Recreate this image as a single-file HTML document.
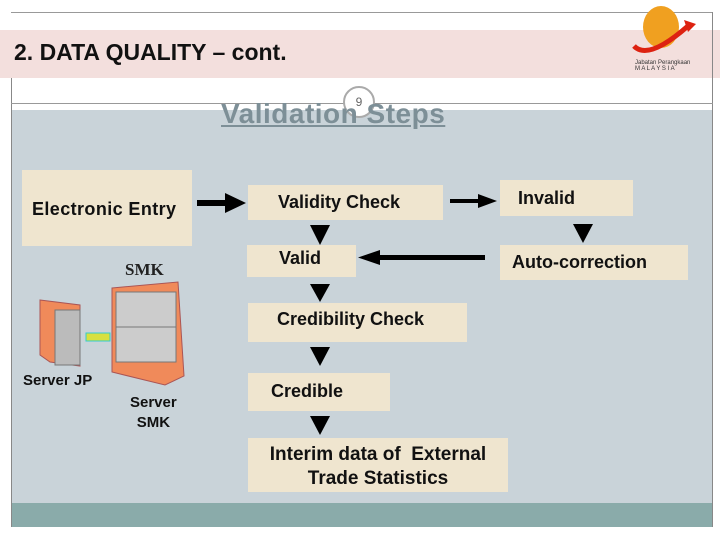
<!DOCTYPE html>
<html><head><style>
body{margin:0;width:720px;height:540px;background:#fff;position:relative;overflow:hidden;font-family:"Liberation Sans",sans-serif;font-weight:bold;}
.a{position:absolute;}
.box{position:absolute;background:#efe5cf;color:#111;font-size:18px;}
</style></head><body>
<div class="a" style="left:11px;top:12px;width:702px;height:1px;background:#999"></div>
<div class="a" style="left:0;top:30px;width:720px;height:48px;background:#f3dfdd"></div>
<div class="a" style="left:14px;top:39px;font-size:23px;color:#111">2. DATA QUALITY – cont.</div>
<div class="a" style="left:11px;top:78px;width:1px;height:449px;background:#888"></div>
<div class="a" style="left:712px;top:12px;width:1px;height:515px;background:#888"></div>
<div class="a" style="left:11px;top:103px;width:702px;height:1px;background:#999"></div>
<div class="a" style="left:12px;top:110px;width:700px;height:393px;background:#c9d3d9"></div>
<div class="a" style="left:12px;top:503px;width:700px;height:24px;background:#8aabaa"></div>
<!-- logo -->
<div class="a" style="left:643px;top:6px;width:36px;height:42px;border-radius:50%;background:#f0a020"></div>
<svg class="a" style="left:628px;top:16px" width="70" height="40"><path d="M6 30 Q20 45 60 10" stroke="#d21" stroke-width="5" fill="none"/><polygon points="56,4 68,8 60,16" fill="#d21"/></svg>
<div class="a" style="left:635px;top:60px;font-size:6px;font-weight:normal;color:#333">Jabatan Perangkaan<br>M A L A Y S I A</div>
<!-- page number -->
<div class="a" style="left:343px;top:86px;width:28px;height:28px;border-radius:50%;border:2px solid #aaa;background:#fff;font-size:12px;font-weight:normal;color:#666;text-align:center;line-height:28px">9</div>
<div class="a" style="left:221px;top:98px;font-size:28px;color:#7d8f97;text-decoration:underline;letter-spacing:0.5px">Validation Steps</div>
<!-- boxes -->
<div class="box" style="left:22px;top:170px;width:170px;height:76px;"><div style="margin:29px 0 0 10px;letter-spacing:0.4px">Electronic Entry</div></div>
<div class="a" style="left:125px;top:260px;font-family:'Liberation Serif',serif;font-size:17px;color:#222">SMK</div>
<div class="box" style="left:248px;top:185px;width:195px;height:35px;"><div style="margin:7px 0 0 30px">Validity Check</div></div>
<div class="box" style="left:500px;top:180px;width:133px;height:36px;"><div style="margin:8px 0 0 18px">Invalid</div></div>
<div class="box" style="left:247px;top:245px;width:109px;height:32px;"><div style="margin:3px 0 0 32px">Valid</div></div>
<div class="box" style="left:500px;top:245px;width:188px;height:35px;"><div style="margin:7px 0 0 12px">Auto-correction</div></div>
<div class="box" style="left:248px;top:303px;width:219px;height:39px;"><div style="margin:6px 0 0 29px">Credibility Check</div></div>
<div class="box" style="left:248px;top:373px;width:142px;height:38px;"><div style="margin:8px 0 0 23px">Credible</div></div>
<div class="box" style="left:248px;top:438px;width:260px;height:54px;text-align:center;font-size:19px"><div style="margin:5px 0 0 0;line-height:24px">Interim data of &nbsp;External<br>Trade Statistics</div></div>
<!-- arrows -->
<svg class="a" style="left:0;top:0" width="720" height="540">
<g fill="#000">
<rect x="197" y="200" width="30" height="6"/><polygon points="225,193 246,203 225,213"/>
<rect x="450" y="199" width="30" height="4"/><polygon points="478,194 497,201 478,208"/>
<polygon points="310,225 330,225 320,245"/>
<polygon points="573,224 593,224 583,243"/>
<rect x="378" y="255" width="107" height="5"/><polygon points="380,250 358,257.5 380,265"/>
<polygon points="310,284 330,284 320,302"/>
<polygon points="310,347 330,347 320,366"/>
<polygon points="310,416 330,416 320,435"/>
</g>
<!-- servers -->
<polygon points="40,300 80,305 80,366 50,362 40,355" fill="#f08a5a" stroke="#a55" />
<rect x="55" y="310" width="25" height="55" fill="#bbb" stroke="#777"/>
<rect x="86" y="333" width="24" height="8" fill="#d8e040" stroke="#3cc"/>
<polygon points="112,288 178,282 184,376 165,385 112,372" fill="#f08a5a" stroke="#a55"/>
<rect x="116" y="292" width="60" height="70" fill="#ccc" stroke="#777"/>
<line x1="116" y1="327" x2="176" y2="327" stroke="#777"/>
</svg>
<div class="a" style="left:23px;top:372px;font-size:15px;color:#111">Server JP</div>
<div class="a" style="left:130px;top:393px;font-size:15px;color:#111;text-align:center;line-height:20px">Server<br>SMK</div>
</body></html>
